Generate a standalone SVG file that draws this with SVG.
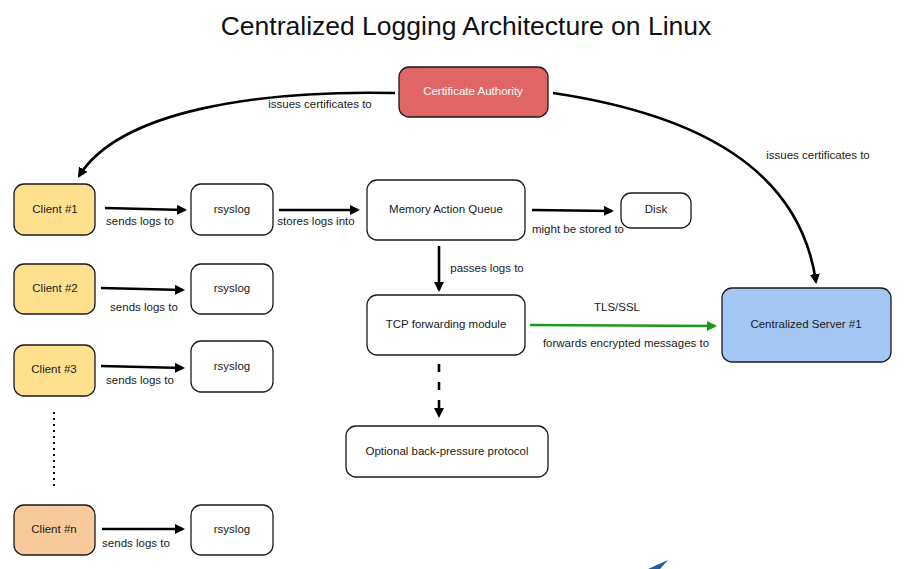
<svg xmlns="http://www.w3.org/2000/svg" width="905" height="569" viewBox="0 0 905 569">
<defs>
<marker id="ah" markerWidth="10" markerHeight="10" refX="8" refY="5" orient="auto" markerUnits="userSpaceOnUse"><path d="M0,0 L10,5 L0,10 Z" fill="#000"/></marker>
<marker id="ahg" markerWidth="10" markerHeight="10" refX="8" refY="5" orient="auto" markerUnits="userSpaceOnUse"><path d="M0,0 L10,5 L0,10 Z" fill="#1a9a1a"/></marker>
<style>
.n{stroke:#1a1a1a;stroke-width:1.3}
.w{fill:#fff}
.t{font-family:"Liberation Sans",Arial,sans-serif;font-size:11.5px;fill:#1a1a1a;text-anchor:middle;dominant-baseline:middle}
.l{font-family:"Liberation Sans",Arial,sans-serif;font-size:11.5px;fill:#1a1a1a;text-anchor:middle;dominant-baseline:middle}
.c{fill:none;stroke:#000;stroke-width:2.6;marker-end:url(#ah)}
</style>
</defs>
<rect width="905" height="569" fill="#fff"/>
<text x="466" y="28" font-family="'Liberation Sans',Arial,sans-serif" font-size="26.5" text-anchor="middle" dominant-baseline="middle" fill="#111">Centralized Logging Architecture on Linux</text>

<g id="connectors">
<path class="c" d="M395,93 C260,90 120,110 79,176"/>
<path class="c" d="M553,93 C700,115 800,170 816,282"/>
<path class="c" d="M105,208 L185,210"/>
<path class="c" d="M279,210 L358,210"/>
<path class="c" d="M532,210 L612,211"/>
<path class="c" d="M439,246 L439,290"/>
<path d="M530,325 L715,326" fill="none" stroke="#1a9a1a" stroke-width="2.6" marker-end="url(#ahg)"/>
<path d="M439,364 L439,416" fill="none" stroke="#000" stroke-width="2.6" stroke-dasharray="8,10" marker-end="url(#ah)"/>
<path class="c" d="M101,288 L183,290"/>
<path class="c" d="M101,366 L183,368"/>
<path class="c" d="M102,529 L183,529"/>
<path d="M54,412 L54,490" fill="none" stroke="#000" stroke-width="2" stroke-dasharray="2,4"/>
<text class="l" x="320" y="105">issues certificates to</text>
<text class="l" x="818" y="156">issues certificates to</text>
<text class="l" x="140" y="222">sends logs to</text>
<text class="l" x="316" y="222">stores logs into</text>
<text class="l" x="578" y="230">might be stored to</text>
<text class="l" x="487" y="269">passes logs to</text>
<text class="l" x="617" y="308">TLS/SSL</text>
<text class="l" x="626" y="344">forwards encrypted messages to</text>
<text class="l" x="144" y="308">sends logs to</text>
<text class="l" x="140" y="381">sends logs to</text>
<text class="l" x="136" y="544">sends logs to</text>
</g>

<g id="ca"><rect class="n" x="399" y="67" width="149" height="50" rx="10" fill="#e06666"/><text class="t" x="473" y="92" style="fill:#fff">Certificate Authority</text></g>
<g id="client1"><rect class="n" x="14" y="184" width="81" height="51" rx="10" fill="#ffe08f"/><text class="t" x="55" y="210">Client #1</text></g>
<g id="rsyslog1"><rect class="n w" x="191" y="184" width="82" height="51" rx="10"/><text class="t" x="232" y="210">rsyslog</text></g>
<g id="maq"><rect class="n w" x="367" y="180" width="158" height="60" rx="10"/><text class="t" x="446" y="210">Memory Action Queue</text></g>
<g id="disk"><rect class="n w" x="621" y="193" width="70" height="35" rx="10"/><text class="t" x="656" y="210">Disk</text></g>
<g id="tcp"><rect class="n w" x="367" y="295" width="158" height="60" rx="10"/><text class="t" x="446" y="325">TCP forwarding module</text></g>
<g id="server"><rect class="n" x="722" y="288" width="169" height="74" rx="10" fill="#a4c6f4"/><text class="t" x="806" y="325">Centralized Server #1</text></g>
<g id="backpressure"><rect class="n w" x="346" y="426" width="202" height="51" rx="10"/><text class="t" x="447" y="452">Optional back-pressure protocol</text></g>
<g id="client2"><rect class="n" x="14" y="264" width="81" height="50" rx="10" fill="#ffe08f"/><text class="t" x="55" y="289">Client #2</text></g>
<g id="rsyslog2"><rect class="n w" x="191" y="264" width="82" height="50" rx="10"/><text class="t" x="232" y="289">rsyslog</text></g>
<g id="client3"><rect class="n" x="14" y="345" width="81" height="51" rx="10" fill="#ffe08f"/><text class="t" x="54" y="370">Client #3</text></g>
<g id="rsyslog3"><rect class="n w" x="191" y="341" width="82" height="51" rx="10"/><text class="t" x="232" y="367">rsyslog</text></g>
<g id="clientn"><rect class="n" x="14" y="505" width="81" height="50" rx="10" fill="#f8c99a"/><text class="t" x="54" y="530">Client #n</text></g>
<g id="rsyslogn"><rect class="n w" x="191" y="505" width="82" height="50" rx="10"/><text class="t" x="232" y="530">rsyslog</text></g>
<path d="M648,569 L668,560 L660,569 Z" fill="#1f5fa8"/>
</svg>
